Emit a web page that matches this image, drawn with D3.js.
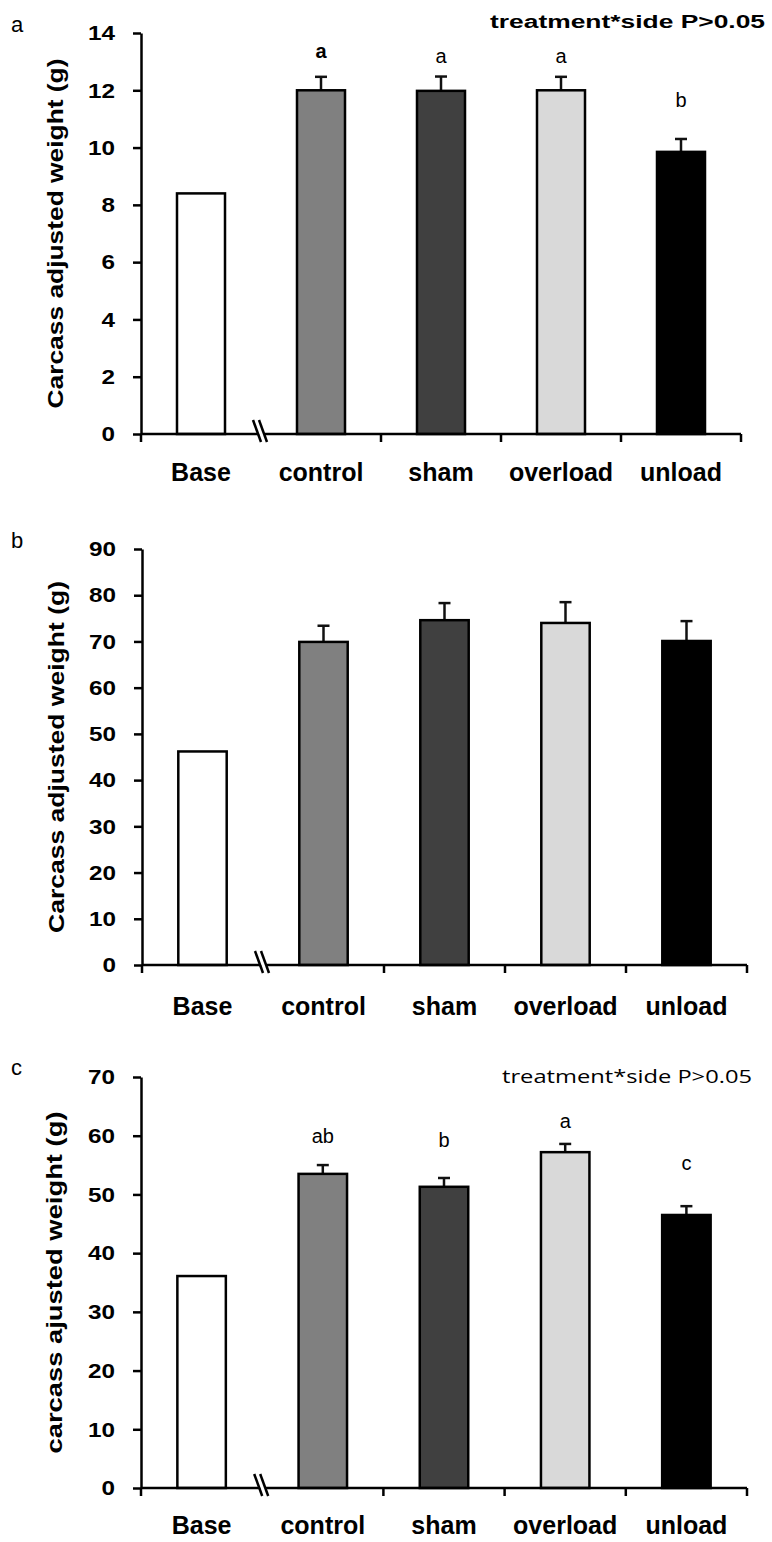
<!DOCTYPE html>
<html>
<head>
<meta charset="utf-8">
<script src="https://cdn.jsdelivr.net/npm/d3@7"></script>
<style>
  body { margin: 0; background: #fff; }
  svg { display: block; }
</style>
</head>
<body>
<script>
/* ------------------------- DATA ------------------------- */

const categories = ['Base', 'control', 'sham', 'overload', 'unload']
const barFills = ['#ffffff', '#808080', '#404040', '#d9d9d9', '#000000']

// panel a
const weightA = [8.4, 12.0, 11.98, 12.0, 9.85]
const errA = [0, 0.47, 0.5, 0.47, 0.45]
const lettersA = ['', 'a', 'a', 'a', 'b']
const letterLevelA = [0, 13.13, 12.95, 12.95, 11.42]
const ticksA = [0, 2, 4, 6, 8, 10, 12, 14]

// panel b
const weightB = [46.2, 69.9, 74.6, 74.0, 70.1]
const errB = [0, 3.5, 3.7, 4.5, 4.3]
const ticksB = [0, 10, 20, 30, 40, 50, 60, 70, 80, 90]

// panel c
const weightC = [36.1, 53.5, 51.3, 57.2, 46.5]
const errC = [0, 1.5, 1.5, 1.4, 1.5]
const lettersC = ['', 'ab', 'b', 'a', 'c']
const letterLevelC = [0, 58.8, 58.1, 61.3, 54.2]
const ticksC = [0, 10, 20, 30, 40, 50, 60, 70]

/* ------------------------- DRAW ------------------------- */

const FONT = 'Liberation Sans, Arial, sans-serif'

const svg = d3.select('body').append('svg')
    .attr('width', 772).attr('height', 1542)
svg.append('rect').attr('width', 772).attr('height', 1542).attr('fill', '#fff')

function drawPanel(p) {
    let x = d3.scaleBand().domain(categories).range([p.left, p.right])
    let y = d3.scaleLinear().domain([0, p.yMax]).range([p.bottom, p.top])
    let bw = x.bandwidth() * 0.4
    let g = svg.append('g')

    // error bars (behind bars)
    let eb = g.append('g').attr('stroke', '#111').attr('stroke-width', 2.5)
    p.values.forEach((v, i) => {
        if (!p.errors[i]) return
        let cx = x(categories[i]) + x.bandwidth() / 2
        eb.append('line').attr('x1', cx).attr('x2', cx)
            .attr('y1', y(v)).attr('y2', y(v + p.errors[i]))
        eb.append('line').attr('x1', cx - 6).attr('x2', cx + 6)
            .attr('y1', y(v + p.errors[i])).attr('y2', y(v + p.errors[i]))
    })

    // bars
    g.selectAll('.bar').data(p.values).enter().append('rect')
        .attr('class', 'bar')
        .attr('x', (d, i) => x(categories[i]) + x.bandwidth() * 0.3)
        .attr('width', bw)
        .attr('y', d => y(d))
        .attr('height', d => p.bottom - y(d))
        .attr('fill', (d, i) => barFills[i])
        .attr('stroke', '#000').attr('stroke-width', 2.5)

    // y axis
    let ya = g.append('g')
        .attr('transform', 'translate(' + p.left + ',0)')
        .call(d3.axisLeft(y).tickValues(p.ticks).tickSize(8).tickPadding(18).tickSizeOuter(0))
    ya.select('.domain').attr('stroke', '#000').attr('stroke-width', 2.5)
    ya.selectAll('.tick line').attr('stroke', '#000').attr('stroke-width', 2.5)
    ya.selectAll('.tick text')
        .attr('font-family', FONT)
        .attr('font-weight', 'bold').attr('font-size', 21).attr('fill', '#000')
        .attr('textLength', d => String(d).length * 13.5)
        .attr('lengthAdjust', 'spacingAndGlyphs')

    // x axis with break between Base and control
    g.append('line').attr('x1', p.left).attr('x2', p.right)
        .attr('y1', p.bottom).attr('y2', p.bottom)
        .attr('stroke', '#000').attr('stroke-width', 2.5)
    let boundaries = [x(categories[0]), x(categories[2]), x(categories[3]), x(categories[4]), p.right]
    g.selectAll('.xtick').data(boundaries).enter().append('line')
        .attr('x1', d => d).attr('x2', d => d)
        .attr('y1', p.bottom).attr('y2', p.bottom + 8)
        .attr('stroke', '#000').attr('stroke-width', 2.5)

    let bx = x(categories[1]) - 1
    let by = p.bottom
    g.append('polygon')
        .attr('points', [[bx - 6, by - 14], [bx - 1, by - 14], [bx + 7, by + 8], [bx + 2, by + 8]].join(' '))
        .attr('fill', '#fff')
    g.append('line').attr('x1', bx - 7).attr('y1', by - 14).attr('x2', bx + 1).attr('y2', by + 8)
        .attr('stroke', '#000').attr('stroke-width', 2.5)
    g.append('line').attr('x1', bx - 1).attr('y1', by - 14).attr('x2', bx + 7).attr('y2', by + 8)
        .attr('stroke', '#000').attr('stroke-width', 2.5)

    // category labels
    g.selectAll('.xlab').data(categories).enter().append('text')
        .attr('x', d => x(d) + x.bandwidth() / 2)
        .attr('y', p.bottom + p.labelDy)
        .attr('text-anchor', 'middle')
        .attr('font-family', FONT)
        .attr('font-weight', 'bold').attr('font-size', 25)
        .text(d => d)

    // significance letters
    if (p.letters) {
        p.letters.forEach((t, i) => {
            if (!t) return
            g.append('text')
                .attr('x', x(categories[i]) + x.bandwidth() / 2)
                .attr('y', y(p.letterLevels[i]))
                .attr('text-anchor', 'middle')
                .attr('font-family', FONT)
                .attr('font-weight', p.letterBold && p.letterBold[i] ? 'bold' : 'normal')
                .attr('font-size', 20)
                .text(t)
        })
    }

    // y title
    g.append('text')
        .attr('transform', 'translate(' + p.titleX + ',' + (p.top + p.bottom) / 2 + ') rotate(-90)')
        .attr('text-anchor', 'middle')
        .attr('font-family', FONT)
        .attr('font-weight', 'bold').attr('font-size', 22)
        .attr('textLength', p.titleLen).attr('lengthAdjust', 'spacingAndGlyphs')
        .text(p.title)

    // panel letter
    g.append('text').attr('x', 11).attr('y', p.panelY)
        .attr('font-family', FONT)
        .attr('font-size', 22)
        .text(p.panel)
}

drawPanel({
    panel: 'a', panelY: 32,
    left: 141, right: 741, top: 33, bottom: 434, yMax: 14,
    values: weightA, errors: errA, ticks: ticksA,
    letters: lettersA, letterLevels: letterLevelA, letterBold: [0, 1, 0, 0, 0],
    labelDy: 47, titleX: 63, titleLen: 350, title: 'Carcass adjusted weight (g)'
})

drawPanel({
    panel: 'b', panelY: 548,
    left: 142, right: 747, top: 549, bottom: 965, yMax: 90,
    values: weightB, errors: errB, ticks: ticksB,
    labelDy: 50, titleX: 64, titleLen: 352, title: 'Carcass adjusted weight (g)'
})

drawPanel({
    panel: 'c', panelY: 1075,
    left: 141, right: 747, top: 1077, bottom: 1488, yMax: 70,
    values: weightC, errors: errC, ticks: ticksC,
    letters: lettersC, letterLevels: letterLevelC,
    labelDy: 46, titleX: 62, titleLen: 342, title: 'carcass ajusted  weight (g)'
})

// interaction notes
svg.append('text').attr('x', 765).attr('y', 28)
    .attr('text-anchor', 'end')
    .attr('font-family', FONT)
    .attr('font-weight', 'bold').attr('font-size', 18)
    .attr('textLength', 275).attr('lengthAdjust', 'spacingAndGlyphs')
    .text('treatment*side P>0.05')

svg.append('text').attr('x', 752).attr('y', 1083)
    .attr('text-anchor', 'end')
    .attr('font-family', 'Open Sans, Noto Sans, sans-serif')
    .attr('font-size', 18)
    .attr('textLength', 250).attr('lengthAdjust', 'spacingAndGlyphs')
    .text('treatment*side P>0.05')
</script>
</body>
</html>
